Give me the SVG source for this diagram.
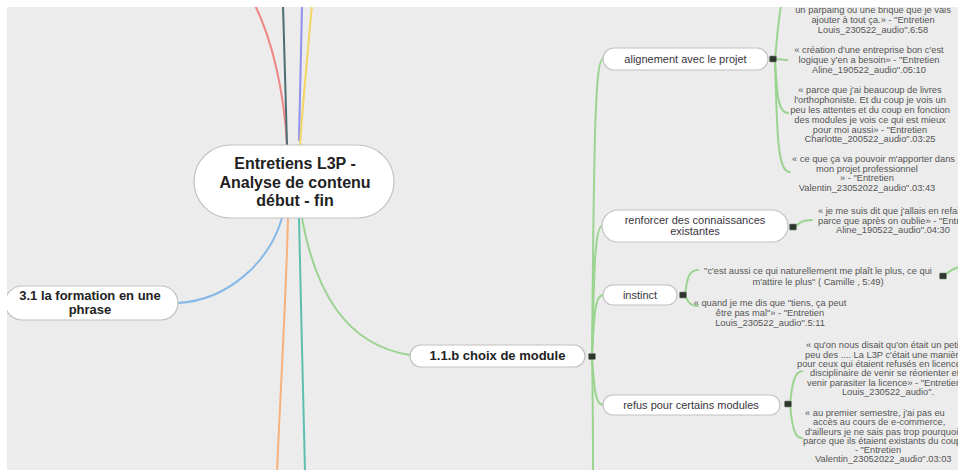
<svg xmlns="http://www.w3.org/2000/svg" width="958" height="470" viewBox="0 0 958 470">
<style>
.bg{fill:#ececec}
.node rect.box{fill:#fff;stroke:#c2c2c2;stroke-width:1.2}
.t{font-family:"Liberation Sans",Arial,sans-serif;fill:#3a3540;text-anchor:middle;font-size:11px}
.b{font-weight:bold;fill:#222}
.leaf text{font-family:"Liberation Sans",Arial,sans-serif;font-size:9.3px;fill:#555;text-anchor:middle}
.leaf text.s{text-anchor:start}
.c{fill:none;stroke-width:2;stroke-linecap:round}
.g{stroke:#9bd490}
rect.mk{fill:#2f362f;stroke:#7a8a7a;stroke-width:0.6}
</style>
<rect class="bg" x="0" y="0" width="958" height="470"/>
<g id="connectors">
<path class="c" stroke="#f08585" d="M287,145 C284,90 272,40 255,5"/>
<path class="c" stroke="#4d6d75" d="M287,145 C286,100 284,50 283,5"/>
<path class="c" stroke="#8e90ee" d="M299,140 C300,100 301,50 302,5"/>
<path class="c" stroke="#f2d565" d="M300,145 C303,100 308,50 312,5"/>
<path class="c" stroke="#86b9e8" d="M282,218 C270,260 230,300 178,303"/>
<path class="c" stroke="#f7b17d" d="M288,218 C286,300 280,400 277,472"/>
<path class="c" stroke="#5cbfae" d="M299,218 C301,300 303,400 305,472"/>
<path class="c g" d="M302,218 C315,290 345,345 410,355"/>
<path class="c g" d="M592,357 C594,140 595,59 603,59"/>
<path class="c g" d="M592,357 C594,270 595,226 602,226"/>
<path class="c g" d="M592,357 C594,315 595,295 603,295"/>
<path class="c g" d="M592,357 C594,385 595,405 603,405"/>
<path class="c g" d="M592,357 C593,400 593,440 593,472"/>
<path class="c g" d="M775,59 C778,30 779,0 790,-25"/>
<path class="c g" d="M775,59 L787,60"/>
<path class="c g" d="M775,59 C777,95 778,113 788,113"/>
<path class="c g" d="M775,59 C777,140 778,172 790,172"/>
<path class="c g" d="M795,227 C800,222 803,220 812,220"/>
<path class="c g" d="M685,295 C687,278 689,270 698,270"/>
<path class="c g" d="M685,295 C687,300 689,306 698,306"/>
<path class="c g" d="M945,275 C950,271 953,268 960,267"/>
<path class="c g" d="M790,404 C792,385 794,372 802,371"/>
<path class="c g" d="M790,404 C792,425 794,438 802,438"/>
</g>
<g id="root" class="node">
<rect class="box" x="194" y="145" width="200" height="73" rx="36.5"/>
<text class="t b" x="295" y="169" style="font-size:16px">Entretiens L3P -</text>
<text class="t b" x="295" y="188" style="font-size:16px">Analyse de contenu</text>
<text class="t b" x="295" y="206" style="font-size:16px">début - fin</text>
</g>
<g id="n31" class="node">
<rect class="box" x="5" y="286" width="173" height="34" rx="17"/>
<text class="t b" x="90" y="299.5" style="font-size:13px">3.1 la formation en une</text>
<text class="t b" x="90" y="313.5" style="font-size:13px">phrase</text>
</g>
<g id="n11b" class="node">
<rect class="box" x="410" y="345" width="175" height="22" rx="11"/>
<text class="t b" x="497.5" y="360" style="font-size:13px">1.1.b choix de module</text>
<rect class="mk" x="588.5" y="353.5" width="7" height="6" rx="1"/>
</g>
<g id="alignement" class="node">
<rect class="box" x="603" y="48" width="165" height="22" rx="11"/>
<text class="t" x="685.5" y="63">alignement avec le projet</text>
<rect class="mk" x="769.5" y="56" width="7" height="6" rx="1"/>
</g>
<g id="renforcer" class="node">
<rect class="box" x="602" y="210" width="186" height="32" rx="16"/>
<text class="t" x="695" y="224">renforcer des connaissances</text>
<text class="t" x="695" y="235">existantes</text>
<rect class="mk" x="789.5" y="224" width="7" height="6" rx="1"/>
</g>
<g id="instinct" class="node">
<rect class="box" x="603" y="285" width="74" height="20" rx="10"/>
<text class="t" x="640" y="299">instinct</text>
<rect class="mk" x="679.5" y="292" width="7" height="6" rx="1"/>
</g>
<g id="refus" class="node">
<rect class="box" x="603" y="395" width="177" height="20" rx="10"/>
<text class="t" x="691" y="409">refus pour certains modules</text>
<rect class="mk" x="784.5" y="401" width="7" height="6" rx="1"/>
</g>
<g id="a1" class="leaf">
<text x="873" y="13.3">un parpaing ou une brique que je vais</text>
<text x="873" y="23.3">ajouter à tout ça.» - "Entretien</text>
<text x="873" y="33.3">Louis_230522_audio".6:58</text>
</g>
<g id="a2" class="leaf">
<text x="869" y="53.3">« création d'une entreprise bon c'est</text>
<text x="869" y="63.3">logique y'en a besoin» - "Entretien</text>
<text x="869" y="73.3">Aline_190522_audio".05:10</text>
</g>
<g id="a3" class="leaf">
<text x="870" y="93.3">« parce que j'ai beaucoup de livres</text>
<text x="870" y="103.1">l'orthophoniste. Et du coup je vois un</text>
<text x="870" y="112.9">peu les attentes et du coup en fonction</text>
<text x="870" y="122.7">des modules je vois ce qui est mieux</text>
<text x="870" y="132.5">pour moi aussi» - "Entretien</text>
<text x="870" y="142.3">Charlotte_200522_audio".03:25</text>
</g>
<g id="a4" class="leaf">
<text class="s" x="792" y="162.3">« ce que ça va pouvoir m'apporter dans</text>
<text x="867" y="171.8">mon projet professionnel</text>
<text x="867" y="181.3">» - "Entretien</text>
<text x="867" y="190.8">Valentin_23052022_audio".03:43</text>
</g>
<g id="r1" class="leaf">
<text class="s" x="818" y="214.3">« je me suis dit que j'allais en refaire</text>
<text class="s" x="818" y="223.8">parce que après on oublie» - "Entretien</text>
<text class="s" x="836" y="233.3">Aline_190522_audio".04:30</text>
</g>
<g id="i1" class="leaf">
<text x="818" y="274.3">"c'est aussi ce qui naturellement me plaît le plus, ce qui</text>
<text x="818" y="285.3">m'attire le plus" ( Camille , 5:49)</text>
<rect class="mk" x="939.5" y="273" width="7" height="6" rx="1"/>
</g>
<g id="i2" class="leaf">
<text x="770" y="306.3">« quand je me dis que "tiens, ça peut</text>
<text x="770" y="316.3">être pas mal"» - "Entretien</text>
<text x="770" y="326.3">Louis_230522_audio".5:11</text>
</g>
<g id="f1" class="leaf">
<text class="s" x="806" y="348.3">« qu'on nous disait qu'on était un petit</text>
<text class="s" x="805" y="357.6">peu des .... La L3P c'était une manière</text>
<text class="s" x="797" y="366.9">pour ceux qui étaient refusés en licence</text>
<text class="s" x="810" y="376.2">disciplinaire de venir se réorienter et</text>
<text class="s" x="807" y="385.5">venir parasiter la licence» - "Entretien</text>
<text x="888" y="394.8">Louis_230522_audio".</text>
</g>
<g id="f2" class="leaf">
<text class="s" x="805" y="416.3">« au premier semestre, j'ai pas eu</text>
<text class="s" x="813" y="425.4">accès au cours de e-commerce,</text>
<text class="s" x="805" y="434.5">d'ailleurs je ne sais pas trop pourquoi</text>
<text class="s" x="803" y="443.6">parce que ils étaient existants du coup</text>
<text x="878" y="452.7">- "Entretien</text>
<text class="s" x="815" y="461.8">Valentin_23052022_audio".03:03</text>
</g>
<rect x="0" y="0" width="958" height="7" fill="#fff"/>
<rect x="0" y="0" width="7" height="470" fill="#fff"/>
</svg>
